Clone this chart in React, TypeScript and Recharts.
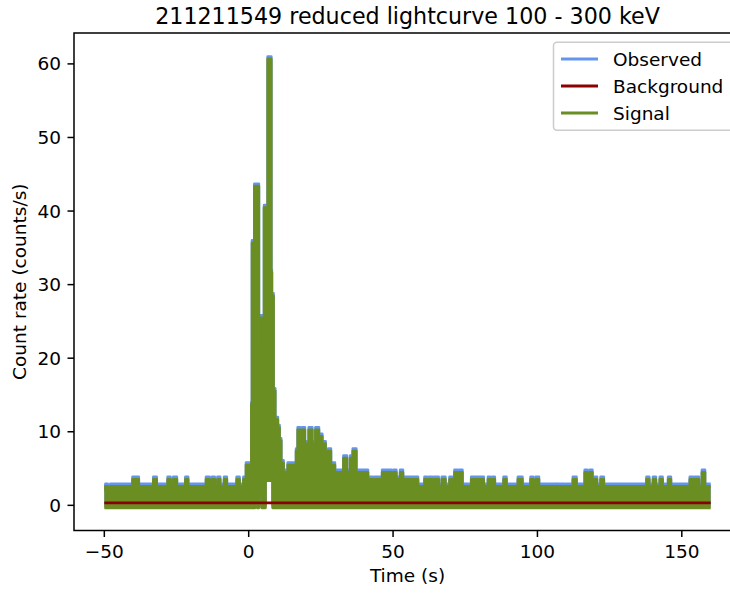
import { ComposedChart, Area, Line, XAxis, YAxis } from "recharts"

// observed rate (counts/s), each value held from its start time (s) to the next one
const obsStart = [
    -50, -49.6, -48.85, -47.9, -46.9, -46.5, -40.5, -40.2, -38.1, -33.0, -31.9, -28.05, -27.1, -26.5,
    -26.1, -24.9, -21.9, -21.0, -18.5, -18.2, -14.75, -13.6, -12.7, -11.8, -10.8, -9.9, -8.5, -7.6,
    -4.14, -3.2, -1.8, -0.9, 0.3, 0.95, 1.18, 2.0, 3.5, 4.87, 5.35, 6.6, 7.8, 8.0, 8.58, 9.16, 10.07,
    10.66, 11.24, 12.04, 12.74, 13.54, 16.44, 17.0, 17.83, 18.53, 19.43, 20.13, 20.82, 22.0, 23.14,
    24.3, 25.46, 26.6, 27.54, 28.45, 29.83, 30.3, 31.45, 31.8, 32.84, 34.0, 35.16, 36.07, 37.24,
    41.28, 43.0, 43.59, 46.25, 49.37, 50.17, 51.1, 52.48, 53.4, 55.13, 55.5, 58.6, 60.92, 61.7, 62.4,
    63.6, 64.15, 65.77, 66.9, 68.1, 69.58, 70.5, 71.3, 72.25, 72.8, 74.0, 77.1, 78.25, 78.6, 81.37,
    82.9, 83.7, 84.4, 85.2, 88.3, 89.24, 90.97, 91.5, 93.26, 94.77, 97.66, 98.46, 99.4, 100.5, 106.6,
    106.8, 109.4, 110.0, 112.3, 113.5, 116.4, 117.2, 118.1, 119.0, 119.8, 120.6, 121.9, 122.96, 127.0,
    127.3, 137.8, 138.7, 140.05, 141.0, 142.4, 143.3, 145.3, 146.2, 152.8, 153.9, 154.5, 155.9, 157.0,
    158.0,
]
const obsRate = [
    2.4, 2.9, 2.3, 2.9, 2.3, 2.9, 2.5, 3.85, 2.9, 3.85, 2.9, 3.85, 2.5, 2.9,
    3.85, 2.9, 3.85, 2.9, 2.2, 2.9, 3.85, 2.9, 3.85, 2.9, 3.85, 2.9, 3.85, 2.9,
    3.85, 2.9, 3.85, 5.8, 2.9, 14, 36, 43.7, 25.8, 22, 40.8, 61, 32, 28.8, 15.9, 12, 10.9,
    9.1, 6.1, 4.8, 3.85, 5.8, 7.7, 10.6, 9.7, 10.6, 7.7, 8.7, 10.6, 8.7, 10.6,
    9.7, 8.7, 5.8, 7.7, 5.8, 3.85, 4.8, 3.85, 4.8, 6.75, 4.8, 6.75, 7.7, 4.8,
    3.85, 2.9, 3.85, 4.8, 3.85, 4.8, 3.85, 4.8, 3.85, 2.9, 3.85, 2.9, 3.85, 2.9, 3.85,
    2.9, 3.85, 2.9, 3.85, 2.9, 3.85, 2.9, 4.8, 3.85, 4.8, 2.9, 3.85, 2.9, 3.85, 2.9,
    3.85, 2.9, 3.85, 2.9, 3.85, 2.9, 2.6, 2.9, 3.85, 2.9, 3.85, 2.9, 3.85, 2.9, 2.3,
    2.9, 2.3, 2.9, 3.85, 2.9, 4.8, 2.9, 4.8, 2.9, 3.85, 2.9, 3.85, 2.9, 2.6,
    2.9, 3.85, 2.9, 3.85, 2.9, 3.85, 2.9, 3.85, 2.9, 3.85, 2.9, 3.85, 2.9, 4.8,
    2.9,
]
const END_TIME = 160

// lowest observed rate: zero everywhere except in a few stretches of the burst
const floorStart = [-50, 2.2, 3.0, 3.5, 4.5, 5.8, 8.3]
const floorRate = [0, 0.6, 0, 1.7, 0, 3.7, 0]

const backgroundRate = 0.33

const xTicks = [-50, 0, 50, 100, 150]
const yTicks = [0, 10, 20, 30, 40, 50, 60]
const seriesNames = ["Observed", "Background", "Signal"]
const seriesColors = ["#6495ED", "#8B0000", "#6B8E23"]

const FONT = "DejaVu Sans"

function heldValue(starts: number[], values: number[], t: number) {
    let v = values[0]
    for (let i = 0; i < starts.length; i++) {
        if (starts[i] <= t) v = values[i]
    }
    return v
}

const times = Array.from(new Set([...obsStart, ...floorStart, END_TIME])).sort((a, b) => a - b)
const data = times.map((t) => {
    const hi = heldValue(obsStart, obsRate, t)
    const lo = heldValue(floorStart, floorRate, t)
    return {
        t,
        observed: [lo, hi],
        signal: [lo - backgroundRate, hi - backgroundRate],
        background: backgroundRate,
    }
})

const fmtTick = (v: number) => (v < 0 ? `\u2212${-v}` : `${v}`)

export default function App() {
    const tickStyle = { fontFamily: FONT, fontSize: 18.5, fill: "#000" }
    return (
        <div style={{ position: "absolute", left: 0, top: 0, width: 730, height: 593, overflow: "hidden", background: "#fff" }}>
            <ComposedChart width={760} height={593} data={data} margin={{ top: 33, right: 19, left: 0, bottom: 22.5 }}>
                <XAxis
                    dataKey="t"
                    type="number"
                    domain={[-60.5, 170.5]}
                    ticks={xTicks}
                    allowDataOverflow
                    tickFormatter={fmtTick}
                    axisLine={false}
                    tickLine={{ stroke: "#000", strokeWidth: 1.5 }}
                    tickSize={6.5}
                    tickMargin={7.5}
                    height={40}
                    tick={tickStyle}
                    interval={0}
                />
                <YAxis
                    type="number"
                    domain={[-3.42, 64.2]}
                    ticks={yTicks}
                    allowDataOverflow
                    axisLine={false}
                    tickLine={{ stroke: "#000", strokeWidth: 1.5 }}
                    tickSize={6.5}
                    tickMargin={6.5}
                    width={74}
                    tick={tickStyle}
                    interval={0}
                />
                <Area
                    type="stepAfter"
                    dataKey="observed"
                    stroke={seriesColors[0]}
                    strokeWidth={2.8}
                    fill={seriesColors[0]}
                    fillOpacity={1}
                    strokeLinejoin="round"
                    dot={false}
                    activeDot={false}
                    isAnimationActive={false}
                />
                <Area
                    type="stepAfter"
                    dataKey="signal"
                    stroke={seriesColors[2]}
                    strokeWidth={2.8}
                    fill={seriesColors[2]}
                    fillOpacity={1}
                    strokeLinejoin="round"
                    dot={false}
                    activeDot={false}
                    isAnimationActive={false}
                />
                <Line
                    type="linear"
                    dataKey="background"
                    stroke={seriesColors[1]}
                    strokeWidth={2.8}
                    dot={false}
                    activeDot={false}
                    isAnimationActive={false}
                />
            </ComposedChart>
            <svg width={730} height={593} style={{ position: "absolute", left: 0, top: 0, pointerEvents: "none" }}>
                <rect x={74} y={33} width={667} height={497.5} fill="none" stroke="#000" strokeWidth={1.5} />
                <text x={407.5} y={23.5} textAnchor="middle" fontFamily={FONT} fontSize={22.2} fill="#000">
                    211211549 reduced lightcurve 100 - 300 keV
                </text>
                <text x={407.5} y={582} textAnchor="middle" fontFamily={FONT} fontSize={18.5} fill="#000">
                    Time (s)
                </text>
                <text
                    x={0}
                    y={0}
                    transform="translate(26 281.7) rotate(-90)"
                    textAnchor="middle"
                    fontFamily={FONT}
                    fontSize={18.5}
                    fill="#000"
                >
                    Count rate (counts/s)
                </text>
                <rect x={553.5} y={42.3} width={180} height={88} rx={3.5} fill="#fff" fillOpacity={0.8} stroke="#cccccc" strokeWidth={1.5} />
                {seriesNames.map((name, i) => (
                    <g key={name}>
                        <line x1={561} x2={598} y1={59 + i * 27} y2={59 + i * 27} stroke={seriesColors[i]} strokeWidth={2.8} />
                        <text x={613} y={65.5 + i * 27} fontFamily={FONT} fontSize={18.5} fill="#000">
                            {name}
                        </text>
                    </g>
                ))}
            </svg>
        </div>
    )
}
